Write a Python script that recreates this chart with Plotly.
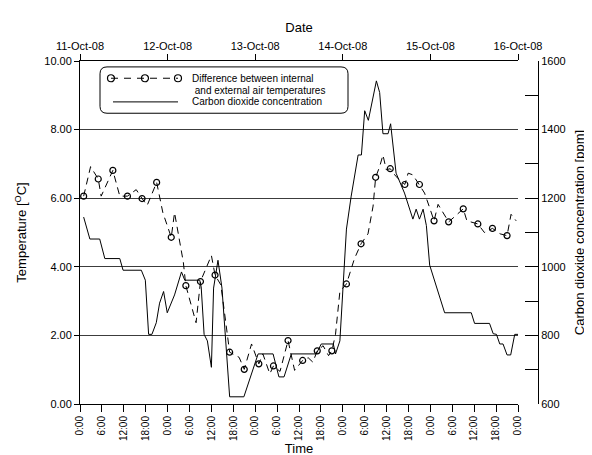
import plotly.graph_objects as go

# ---------------- data (hours since 11-Oct-08 0:00) ----------------
temp_hours = [1, 2.9, 5, 5.8, 9, 10.9, 13, 15.4, 17, 18.4, 21, 22.7, 25, 25.9, 28.3, 29,
              31.8, 33, 36, 37, 38.6, 41, 43.6, 45, 47, 49, 50.1, 52, 53, 54.8, 57, 58.8,
              61, 62.5, 63.8, 65, 66.6, 68.1, 69, 70, 71.2, 73, 75.2, 77, 78.9, 80.3, 81,
              82.1, 83, 83.9, 85, 86.6, 89, 89.9, 91.2, 93, 94.4, 95.8, 97, 98.1, 99.4,
              101, 102.4, 105, 106, 109, 110.8, 113, 115.1, 117, 118.1, 119.5]
temp_diff = [6.06, 6.92, 6.56, 6.06, 6.81, 6.06, 6.06, 6.25, 5.99, 5.79, 6.46, 5.58, 4.86, 5.58, 4.14, 3.45,
             2.37, 3.57, 4.33, 3.76, 3.47, 1.51, 1.36, 1.01, 1.75, 1.17, 1.46, 0.88, 1.11, 0.95, 1.85, 0.98,
             1.27, 1.35, 1.22, 1.55, 1.70, 1.41, 1.55, 2.03, 3.28, 3.50, 4.24, 4.67, 4.96, 5.77, 6.61,
             6.92, 7.26, 6.83, 6.86, 6.63, 6.40, 6.73, 6.68, 6.40, 6.15, 5.72, 5.34, 5.82, 5.58,
             5.31, 5.44, 5.69, 5.34, 5.25, 5.00, 5.12, 4.96, 4.91, 5.53, 5.34]

marker_hours = [1, 5, 9, 13, 17, 21, 25, 29, 33, 37, 41, 45, 49, 53, 57, 61, 65, 69, 73, 77,
                81, 85, 89, 93, 97, 101, 105, 109, 113, 117]
marker_diff = [6.06, 6.56, 6.81, 6.06, 5.99, 6.46, 4.86, 3.45, 3.57, 3.76, 1.51, 1.01, 1.17, 1.11,
               1.85, 1.27, 1.55, 1.55, 3.50, 4.67, 6.61, 6.86, 6.40, 6.40, 5.34, 5.31, 5.69, 5.25,
               5.12, 4.91]

co2_hours = [1, 2.7, 5.4, 6.8, 10.9, 11.8, 16.8, 17.9, 18.8, 19.7, 20.9, 21.8, 22.9, 23.9, 25.9,
             27.8, 28.7, 32.8, 33.2, 34.0, 34.9, 36.0, 36.6, 37.8, 38.9, 41.0, 44.9, 48.8, 52.9,
             54.5, 55.9, 57.9, 64.7, 66.1, 69.4, 70.0, 71.2, 72.3, 73.0, 74.3, 76.2, 77.1, 78.0,
             79.0, 81.2, 82.1, 83.0, 84.4, 85.1, 86.6, 88.9, 91.2, 92.1, 93.0, 94.0, 94.9, 95.8,
             99.9, 107.2, 108.1, 112.2, 113.2, 114.1, 115.0, 115.9, 117.0, 118.0, 119.1, 120.0]
co2_ppm = [1145, 1081, 1081, 1024, 1024, 990, 990, 961, 803, 803, 837, 894, 928, 866, 918,
           985, 961, 961, 942, 803, 784, 707, 938, 1019, 938, 621, 621, 746, 746,
           679, 679, 746, 746, 775, 775, 746, 784, 1005, 1110, 1206, 1326, 1326, 1455,
           1427, 1542, 1508, 1388, 1388, 1417, 1273, 1215, 1139, 1168, 1139, 1168, 1120, 1005,
           866, 866, 835, 835, 805, 803, 775, 775, 743, 743, 803, 803]

time_tick_hours = list(range(0, 121, 6))
time_tick_labels = ["0:00", "6:00", "12:00", "18:00"] * 5 + ["0:00"]
date_tick_hours = list(range(0, 121, 24))
date_tick_labels = ["11-Oct-08", "12-Oct-08", "13-Oct-08", "14-Oct-08", "15-Oct-08", "16-Oct-08"]

legend_temp_lines = ["Difference between internal", " and external air temperatures"]
legend_co2_text = "Carbon dioxide concentration"

# ---------------- figure ----------------
L, R, T, B = 72, 62, 53, 54
W, H = 592, 455
pw, ph = W - L - R, H - T - B
plot_right = 510
dom = [0, (plot_right - L) / pw]

FONT = "Liberation Sans, Arial, sans-serif"
DASH = "7px,5px"

fig = go.Figure()
fig.add_trace(go.Scatter(x=temp_hours, y=temp_diff, mode="lines",
                         line=dict(color="black", width=1, dash=DASH),
                         name="Difference between internal and external air temperatures",
                         showlegend=False, hoverinfo="skip"))
fig.add_trace(go.Scatter(x=marker_hours, y=marker_diff, mode="markers",
                         marker=dict(symbol="circle-open", size=6, color="black",
                                     line=dict(width=1.2, color="black")),
                         showlegend=False))
fig.add_trace(go.Scatter(x=co2_hours, y=co2_ppm, mode="lines", xaxis="x2", yaxis="y2",
                         name=legend_co2_text, showlegend=False,
                         line=dict(color="black", width=1)))


def px2paper(X, Y):
    return (X - L) / pw, (H - B - Y) / ph


# rounded legend frame
x0, yt = px2paper(92, 59)
x1, yb = px2paper(340, 106)
rx, ry = 7 / pw, 7 / ph
path = (f"M {x0+rx},{yt} L {x1-rx},{yt} Q {x1},{yt} {x1},{yt-ry} L {x1},{yb+ry} "
        f"Q {x1},{yb} {x1-rx},{yb} L {x0+rx},{yb} Q {x0},{yb} {x0},{yb+ry} "
        f"L {x0},{yt-ry} Q {x0},{yt} {x0+rx},{yt} Z")

shapes = [
    dict(type="path", xref="paper", yref="paper", path=path,
         line=dict(color="black", width=1), fillcolor="rgba(0,0,0,0)"),
    dict(type="line", xref="x", yref="y", x0=0, x1=120, ysizemode="pixel", yanchor=10,
         y0=3, y1=3, line=dict(color="black", width=1)),
    dict(type="line", xref="x", yref="y", x0=0, x1=120, ysizemode="pixel", yanchor=0,
         y0=-2, y1=-2, line=dict(color="black", width=1)),
]

# legend symbols
row1_y, row2_y, row3_y = 70.5, 82.5, 94.5
lx0, ly = px2paper(103, row1_y)
lx1, _ = px2paper(170, row1_y)
shapes.append(dict(type="line", xref="paper", yref="paper", x0=lx0, x1=lx1, y0=ly, y1=ly,
                   line=dict(color="black", width=1, dash="7px,6px")))
for cx in (103, 137, 170):
    px_, py_ = px2paper(cx, row1_y)
    shapes.append(dict(type="circle", xref="paper", yref="paper", xsizemode="pixel",
                       ysizemode="pixel", xanchor=px_, yanchor=py_, x0=-3.5, x1=3.5,
                       y0=-3.5, y1=3.5, line=dict(color="black", width=1.2)))
cx0, cy = px2paper(105, row3_y)
cx1, _ = px2paper(170, row3_y)
shapes.append(dict(type="line", xref="paper", yref="paper", x0=cx0, x1=cx1, y0=cy, y1=cy,
                   line=dict(color="black", width=1)))

annotations = []
for text, ry_ in ((legend_temp_lines[0], row1_y), (legend_temp_lines[1], row2_y),
                  (legend_co2_text, row3_y)):
    ax_, ay_ = px2paper(183, ry_)
    annotations.append(dict(xref="paper", yref="paper", x=ax_, y=ay_, text=text,
                            xanchor="left", yanchor="middle", showarrow=False,
                            borderpad=0,
                            font=dict(size=10, family=FONT, color="black")))

fig.update_layout(
    width=W, height=H,
    margin=dict(l=L, r=R, t=T, b=B),
    paper_bgcolor="white", plot_bgcolor="white",
    font=dict(family=FONT, size=11, color="black"),
    shapes=shapes, annotations=annotations,
    showlegend=False,
    xaxis=dict(domain=dom, range=[0, 120], tickmode="array", tickvals=time_tick_hours,
               ticktext=time_tick_labels, tickangle=-90, ticks="outside", ticklen=7,
               tickcolor="black", showline=True, linecolor="black", linewidth=1,
               showgrid=False, zeroline=False, tickfont=dict(size=10),
               title=dict(text="Time", font=dict(size=13), standoff=1), anchor="y"),
    xaxis2=dict(domain=dom, overlaying="x", side="top", anchor="y", range=[0, 120],
                tickmode="array", tickvals=date_tick_hours, ticktext=date_tick_labels,
                ticks="outside", ticklen=6, tickcolor="black", showline=True,
                linecolor="black", showgrid=False, zeroline=False,
                title=dict(text="Date", font=dict(size=13), standoff=4)),
    yaxis=dict(range=[0, 10], dtick=2, tickformat=".2f", ticks="outside", ticklen=5,
               tickcolor="black", showline=True, linecolor="black", showgrid=True,
               gridcolor="#3c3c3c", gridwidth=1, zeroline=False,
               title=dict(text="Temperature [<sup>O</sup>C]", font=dict(size=13), standoff=14)),
    yaxis2=dict(overlaying="y", side="right", anchor="free", position=1, range=[600, 1600],
                dtick=200, ticks="inside", ticklen=13, tickcolor="black", showline=True,
                linecolor="black", showgrid=False, zeroline=False,
                minor=dict(dtick=100, ticks="inside", ticklen=13, tickcolor="black"),
                title=dict(text="Carbon dioxide concentration [ppm]", font=dict(size=13), standoff=10)),
)

fig.write_html("out.html")
